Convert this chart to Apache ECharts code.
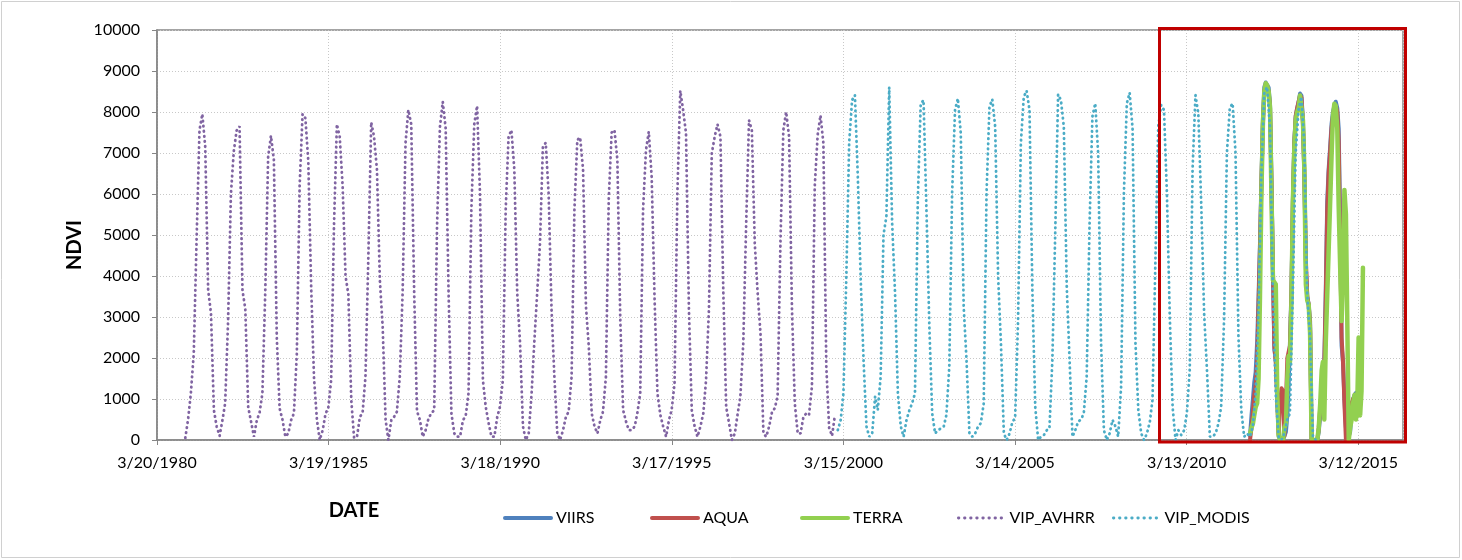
<!DOCTYPE html>
<html>
<head>
<meta charset="utf-8">
<script src="https://cdn.jsdelivr.net/npm/echarts@6/dist/echarts.min.js"></script>
<style>
  html, body { margin: 0; padding: 0; background: #ffffff; }
  #chart { width: 1462px; height: 560px; }
</style>
</head>
<body>
<div id="chart"></div>
<script>
// ---- Data -------------------------------------------------------------
// Monthly (mid-month) VIP NDVI from AVHRR, one row per year, Jan..Dec
const avhrrYears = [1981, 1982, 1983, 1984, 1985, 1986, 1987, 1988, 1989, 1990,
                    1991, 1992, 1993, 1994, 1995, 1996, 1997, 1998, 1999];
const avhrrNdvi = [
  [50, 530, 1140, 2110, 4880, 7560, 7950, 7150, 3660, 3090, 730, 325],
  [100, 500, 900, 2900, 6000, 7050, 7550, 7650, 3650, 3200, 800, 450],
  [80, 490, 650, 1140, 3580, 6910, 7420, 6830, 2500, 770, 490, 80],
  [160, 490, 650, 2100, 6200, 7950, 7850, 6800, 3700, 1500, 490, 0],
  [240, 650, 770, 1460, 5200, 7700, 7400, 6200, 4000, 3550, 980, 50],
  [80, 570, 650, 1540, 4400, 7750, 7400, 6600, 3900, 2760, 490, 0],
  [490, 570, 690, 1540, 3580, 7240, 8050, 7700, 3600, 700, 490, 80],
  [240, 530, 650, 730, 5200, 7640, 8250, 7600, 3580, 650, 160, 80],
  [80, 490, 570, 1140, 5600, 7700, 8150, 6000, 1460, 810, 410, 80],
  [80, 570, 810, 1460, 5600, 7400, 7560, 6600, 3580, 2360, 330, 0],
  [160, 1140, 2360, 3580, 4800, 7150, 7250, 6000, 3170, 1540, 160, 0],
  [240, 570, 690, 1540, 5600, 7320, 7380, 6600, 3250, 2280, 650, 330],
  [160, 490, 690, 1540, 5850, 7500, 7560, 6830, 2930, 730, 450, 240],
  [240, 330, 650, 1140, 5600, 7070, 7520, 6400, 3400, 1140, 610, 330],
  [80, 490, 730, 1380, 6000, 8520, 8050, 7480, 3170, 730, 330, 80],
  [330, 650, 1460, 3200, 6990, 7400, 7700, 7400, 3580, 810, 410, 0],
  [160, 650, 1060, 2360, 5200, 7800, 7560, 4800, 3580, 2600, 160, 80],
  [330, 690, 770, 1060, 4800, 7560, 8000, 7400, 3170, 890, 160, 160],
  [570, 650, 610, 1300, 6180, 7440, 7920, 7240, 1790, 300, 100, 600]
];

// Monthly (mid-month) VIP NDVI from MODIS, one row per year, Jan..Dec
const modisYears = [2000, 2001, 2002, 2003, 2004, 2005, 2006,
                    2007, 2008, 2009, 2010, 2011, 2012, 2013];
const modisNdvi = [
  [240, 490, 1140, 4000, 7240, 8290, 8410, 6420, 3900, 1950, 330, 80],
  [160, 1060, 730, 1540, 5000, 5450, 8600, 5300, 3580, 1140, 330, 80],
  [490, 730, 890, 1140, 5850, 8200, 8290, 5600, 2760, 650, 160, 240],
  [280, 330, 610, 1790, 6020, 8050, 8330, 7480, 3250, 1950, 160, 80],
  [160, 330, 410, 890, 6020, 8130, 8310, 7640, 4000, 2360, 160, 0],
  [160, 450, 530, 2900, 7240, 8370, 8520, 8050, 3580, 810, 0, 80],
  [120, 240, 280, 1950, 5000, 8430, 8290, 7640, 3740, 1950, 80, 240],
  [450, 500, 650, 1540, 5200, 7890, 8210, 6990, 2360, 240, 0, 160],
  [490, 330, 80, 1300, 6020, 8210, 8470, 7600, 2360, 730, 160, 0],
  [160, 450, 980, 4390, 7640, 8170, 8050, 6020, 3000, 800, 0, 240],
  [120, 240, 650, 1710, 6590, 8410, 7970, 5770, 3090, 1710, 80, 80],
  [160, 410, 810, 2930, 6990, 8100, 8210, 6990, 2520, 730, 80, 160],
  [80, 330, 1140, 3170, 6420, 8450, 8610, 7640, 3580, 1140, 80, 0],
  [160, 490, 650, 3580, 6990, 8050, 8370, 7240, 3580, 2500, 80, 0]
];

// Semi-monthly sensor NDVI (1st and 16th of each month), one row per year
const sensorYears = [2012, 2013, 2014, 2015];
const viirsNdvi = [
  [null, 100, 600, 1000, 1400, 1650, 2400, 3500, 4800, 6300, 7800, 8600, 8720, 8700, 8600, 8200, 6300, 4100, 2200, 1950, 1100, 150, 0, 0],
  [0, 0, 200, 600, 1300, 2400, 3700, 5900, 7300, 7900, 8100, 8250, 8450, 8400, 7800, 6400, 4200, 3500, 3300, 2900, 0, 0, 0, 0],
  [0, 200, 600, 1000, 1300, 1900, 3700, 5800, 6600, 7100, 7700, 8000, 8150, 8250, 8100, 7600, 5300, 2300, 1900, 1000, 300, 0, 0, 200],
  [700, 1000, 1100, 1150]
];
const aquaNdvi = [
  [null, 0, 300, 700, 1100, 1300, 1900, 3300, 4700, 6200, 7700, 8500, 8650, 8600, 8500, 8100, 6100, 4100, 2300, 1900, 900, 100, 900, 1260],
  [1200, 100, 900, 2000, 2000, 2300, 3600, 5800, 7200, 7900, 8100, 8250, 8400, 8350, 7700, 6500, 4400, 3500, 3300, 2800, 0, 0, 0, 0],
  [0, 300, 800, 1200, 1100, 1800, 3500, 5600, 6500, 7000, 7600, 7900, 8100, 8150, 8000, 7300, 4800, 2500, 1900, 900, 0, 0, 0, 500],
  [900, 1000, 1050, 1100]
];
const terraNdvi = [
  [null, 150, 300, 400, 600, 800, 900, 1500, 3500, 6000, 7700, 8500, 8700, 8650, 8500, 8100, 5800, 3900, 3900, 3800, 1100, 100, 0, 0],
  [0, 300, 400, 1500, 2050, 1900, 3400, 5800, 7100, 7800, 8000, 8100, 8400, 8400, 7800, 6600, 3800, 3400, 3300, 2600, 0, 0, 0, 0],
  [0, 300, 900, 1700, 1900, 500, 2400, 3500, 4600, 5700, 6900, 7900, 8200, 8150, 7600, 5700, 4200, 2900, 4000, 6100, 5500, 2800, 0, 300],
  [500, 900, 1100, 500, 800, 2500, 600, 1200, 4200]
];

const seriesNames = ['VIIRS', 'AQUA', 'TERRA', 'VIP_AVHRR', 'VIP_MODIS'];
const seriesColors = ['#4F81BD', '#C0504D', '#92D050', '#8064A2', '#4BACC6'];

// ---- Date helpers (x axis counts days from 3/20/1980) -------------------
const BASE = Date.UTC(1980, 2, 20);
const DAY = 86400000;
function dayOf(y, m, d) { return (Date.UTC(y, m - 1, d) - BASE) / DAY; }
function dateLabel(days) {
  const t = new Date(BASE + Math.round(days) * DAY);
  return (t.getUTCMonth() + 1) + '/' + t.getUTCDate() + '/' + t.getUTCFullYear();
}
function monthlyPoints(years, rows) {
  const pts = [];
  years.forEach((y, i) => rows[i].forEach((v, m) => pts.push([dayOf(y, m + 1, 15), v])));
  return pts;
}
function semiMonthlyPoints(years, rows) {
  const pts = [];
  years.forEach((y, i) => rows[i].forEach((v, k) => {
    if (v !== null) pts.push([dayOf(y, Math.floor(k / 2) + 1, k % 2 ? 16 : 1), v]);
  }));
  return pts;
}

const FONT = 'Lato, "Open Sans", sans-serif';
const dottedStyle = (c) => ({ color: c, width: 2.8, type: [0.5, 4.6], cap: 'round' });
const solidStyle = (c, w) => ({ color: c, width: w, cap: 'round', join: 'round' });
const isDotted = [false, false, false, true, true];

const chart = echarts.init(document.getElementById('chart'), null, { renderer: 'canvas' });

const legendLeft = [503, 650, 800, 957, 1112];

chart.setOption({
  animation: false,
  backgroundColor: '#ffffff',
  grid: {
    left: 157, right: 59, top: 30, bottom: 120,
    show: true, borderColor: '#868686', borderWidth: 1.5
  },
  xAxis: {
    type: 'value',
    min: 0, max: 13251, interval: 1825,
    axisLine: { show: true, lineStyle: { color: '#868686', width: 1.5 } },
    axisTick: { show: true, length: 5, lineStyle: { color: '#868686', width: 1 } },
    axisLabel: {
      formatter: dateLabel, showMaxLabel: false,
      color: '#000', fontFamily: FONT, fontSize: 16, margin: 15
    },
    splitLine: { show: true, lineStyle: { color: '#C8C8C8', width: 1, type: [1, 2] } }
  },
  yAxis: {
    type: 'value',
    min: 0, max: 10000, interval: 1000,
    axisLine: { show: true, lineStyle: { color: '#868686', width: 1.5 } },
    axisTick: { show: true, length: 5, lineStyle: { color: '#868686', width: 1 } },
    axisLabel: { formatter: (v) => String(v), color: '#000', fontFamily: FONT, fontSize: 16, margin: 17 },
    splitLine: { show: true, lineStyle: { color: '#C8C8C8', width: 1, type: [1, 2] } }
  },
  legend: seriesNames.map((n, i) => ({
    data: [n], left: legendLeft[i], top: 510, padding: 0,
    itemWidth: 46, itemHeight: 12, itemGap: 0,
    itemStyle: { opacity: 0 },
    lineStyle: isDotted[i]
      ? { width: 2.8, type: [0.5, 5.6], cap: 'round' }
      : { width: 4, cap: 'round' },
    textStyle: { color: '#000', fontFamily: FONT, fontSize: 16 }
  })),
  series: [
    { name: 'VIIRS', type: 'line', symbol: 'none', data: semiMonthlyPoints(sensorYears, viirsNdvi),
      lineStyle: solidStyle(seriesColors[0], 4), itemStyle: { color: seriesColors[0] } },
    { name: 'AQUA', type: 'line', symbol: 'none', data: semiMonthlyPoints(sensorYears, aquaNdvi),
      lineStyle: solidStyle(seriesColors[1], 4), itemStyle: { color: seriesColors[1] } },
    { name: 'TERRA', type: 'line', symbol: 'none', data: semiMonthlyPoints(sensorYears, terraNdvi),
      lineStyle: solidStyle(seriesColors[2], 4.5), itemStyle: { color: seriesColors[2] } },
    { name: 'VIP_AVHRR', type: 'line', symbol: 'none', data: monthlyPoints(avhrrYears, avhrrNdvi),
      lineStyle: dottedStyle(seriesColors[3]), itemStyle: { color: seriesColors[3] } },
    { name: 'VIP_MODIS', type: 'line', symbol: 'none', data: monthlyPoints(modisYears, modisNdvi),
      lineStyle: dottedStyle(seriesColors[4]), itemStyle: { color: seriesColors[4] } }
  ],
  graphic: [
    { type: 'rect', silent: true, z: -1,
      shape: { x: 1.5, y: 1.5, width: 1458, height: 556 },
      style: { fill: null, stroke: '#D0D0D0', lineWidth: 1 } },
    { type: 'text', silent: true, x: 75, y: 245, rotation: Math.PI / 2,
      style: { text: 'NDVI', fill: '#000', font: 'bold 20px ' + FONT, align: 'center', verticalAlign: 'middle' } },
    { type: 'text', silent: true, x: 354, y: 511,
      style: { text: 'DATE', fill: '#000', font: 'bold 20px ' + FONT, align: 'center', verticalAlign: 'middle' } },
    // highlight box around the period covered by the three sensors
    { type: 'rect', silent: true, z: 100,
      shape: { x: 1159.5, y: 28.5, width: 246, height: 413.5 },
      style: { fill: null, stroke: '#C00000', lineWidth: 3 } }
  ]
});
</script>
</body>
</html>
